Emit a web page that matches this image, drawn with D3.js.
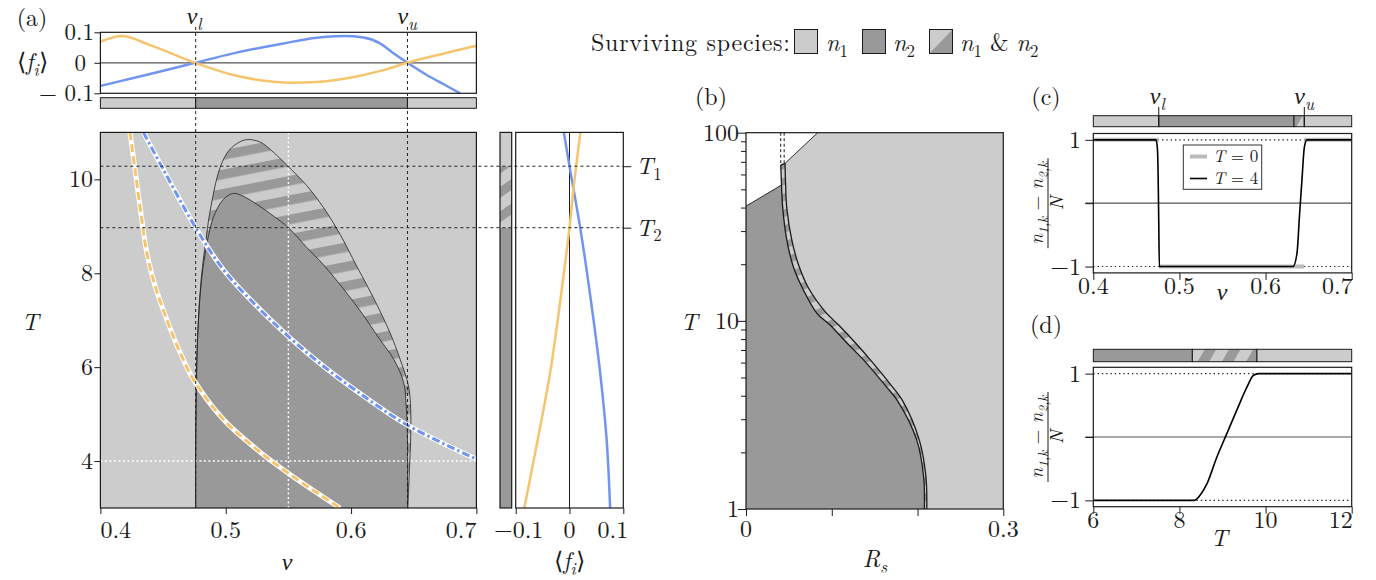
<!DOCTYPE html>
<html><head><meta charset="utf-8">
<script src="https://cdn.jsdelivr.net/npm/d3@7"></script>
<style>
body{margin:0;background:#fff;}
</style></head><body>
<svg id="chart" width="1376" height="580"></svg>
<script>
// ---------------- data ----------------
const LIGHT = "#cccccc", DARK = "#999999", BLUE = "#7195ef", ORANGE = "#f5c46e";
const nuTicks = [0.4, 0.5, 0.6, 0.7];
const nuTickLabels = ["0.4", "0.5", "0.6", "0.7"];
const tTicksA = [4, 6, 8, 10];
const fTicks = [-0.1, 0, 0.1];
const fTickLabelsTop = ["\u2212 0.1", "0", "0.1"];
const fTickLabelsRight = ["\u22120.1", "0", "0.1"];
const nuL = 0.476, nuU = 0.645, T1 = 10.28, T2 = 8.97, nuMid = 0.55, Twhite = 4;

// panel (a) top: <f_i> vs nu
const blueTopNu = [0.400, 0.4396, 0.4755, 0.506, 0.546, 0.5726, 0.5939, 0.6098, 0.6231, 0.6338, 0.645, 0.6604, 0.6764, 0.687];
const blueTopF  = [-0.076, -0.037, 0, 0.031, 0.0636, 0.082, 0.0875, 0.083, 0.0636, 0.031, 0, -0.04, -0.076, -0.1];
const orangeTopNu = [0.400, 0.417, 0.4396, 0.4755, 0.506, 0.5327, 0.551, 0.5726, 0.5992, 0.6258, 0.645, 0.671, 0.700];
const orangeTopF  = [0.069, 0.0875, 0.058, 0, -0.040, -0.060, -0.0655, -0.063, -0.049, -0.024, 0, 0.0275, 0.0557];

// panel (a) main: region boundaries (nu, T)
const outerNu = [0.476, 0.4762, 0.4768, 0.478, 0.4805, 0.4848, 0.4875, 0.4955, 0.5034, 0.5154, 0.527, 0.5354, 0.55, 0.5646, 0.578, 0.5912, 0.6045, 0.6178, 0.6311, 0.6391, 0.6458, 0.6476, 0.6476, 0.6466, 0.6453];
const outerT  = [3.0, 4.5, 5.8, 6.9, 7.9, 8.83, 9.32, 10.25, 10.64, 10.84, 10.80, 10.64, 10.27, 9.87, 9.40, 8.83, 8.15, 7.48, 6.73, 6.17, 5.60, 5.10, 4.53, 3.82, 3.0];
const innerNu = [0.476, 0.476, 0.4765, 0.478, 0.4805, 0.4835, 0.490, 0.498, 0.506, 0.514, 0.5247, 0.538, 0.55, 0.5646, 0.578, 0.6045, 0.623, 0.634, 0.642, 0.644, 0.645, 0.645];
const innerT  = [3.0, 4.5, 5.8, 6.9, 7.8, 8.40, 9.18, 9.57, 9.70, 9.64, 9.47, 9.22, 8.97, 8.55, 8.18, 7.30, 6.59, 6.17, 5.67, 5.17, 4.5, 3.0];
// curves in panel (a) main
const orangeNu = [0.4236, 0.4276, 0.4330, 0.4370, 0.4436, 0.4529, 0.4636, 0.4742, 0.498, 0.5247, 0.551, 0.5912];
const orangeT  = [11.0, 10.21, 9.15, 8.44, 7.73, 7.02, 6.31, 5.74, 4.89, 4.25, 3.72, 3.0];
const blueNu = [0.4343, 0.4502, 0.476, 0.498, 0.5247, 0.551, 0.578, 0.6045, 0.644, 0.7];
const blueT  = [11.0, 10.21, 8.97, 8.08, 7.30, 6.63, 6.02, 5.49, 4.78, 4.04];
// panel (a) right: <f_i> vs T at nu = 0.55
const blueRightT = [11, 10.28, 8.94, 7.51, 5.88, 4.46, 3.0];
const blueRightF = [-0.0105, 0, 0.0203, 0.0387, 0.057, 0.069, 0.0755];
const orangeRightT = [11, 9.86, 8.97, 7.73, 5.95, 4.46, 3.0];
const orangeRightF = [0.0203, 0.008, 0, -0.0135, -0.035, -0.059, -0.084];

// panel (b)
const bTicksR = [0, 0.1, 0.2, 0.3];
const bTickLabels = ["0", "", "", "0.3"];
const bMajorT = [1, 10, 100];
const bMinorT = [2, 3, 4, 5, 6, 7, 8, 9, 20, 30, 40, 50, 60, 70, 80, 90];
const whiteR = [0, 0, 0.0414, 0.0405, 0.0455, 0.0836];
const whiteT = [100, 40.7, 52.7, 67.3, 68.7, 100];
const bandLeftT = [67.3, 52.7, 40, 27, 19.4, 14.6, 11, 9.5, 7.6, 6.2, 4.5, 3.8, 2.33, 1.5, 1];
const bandLeftR = [0.0405, 0.0414, 0.0428, 0.0475, 0.0552, 0.0669, 0.0825, 0.098, 0.118, 0.137, 0.163, 0.176, 0.199, 0.207, 0.208];
const bandRightT = [68.7, 52.7, 40, 27, 20, 15, 11.1, 9.5, 7.6, 6.2, 4.5, 3.8, 2.33, 1.5, 1];
const bandRightR = [0.0455, 0.0462, 0.0475, 0.0533, 0.061, 0.0727, 0.093, 0.108, 0.128, 0.145, 0.170, 0.182, 0.202, 0.2097, 0.2108];

// panel (c)
const cT0Nu = [0.4, 0.476, NaN, 0.476, 0.645, NaN, 0.645, 0.7];
const cT0Y  = [1, 1, NaN, -1, -1, NaN, 1, 1];
const cT4Nu = [0.4, 0.4729, 0.4745, 0.4752, 0.4760, 0.4767, 0.6318, 0.6364, 0.6395, 0.6422, 0.645, 0.648, 0.7];
const cT4Y  = [1, 1, 0.85, 0.5, -0.3, -1, -1, -0.80, -0.17, 0.36, 0.88, 1, 1];
const cBarNu = [0.4, 0.476, 0.633, 0.645, 0.7];
const cBarKind = ["light", "dark", "mix", "light"];
const yTicksCD = [-1, 0, 1];
const yTickLabelsCD = ["\u22121", "", "1"];

// panel (d)
const dTicks = [6, 8, 10, 12];
const dTickLabels = ["6", "8", "10", "12"];
const dT = [6, 8.35, 8.40, 8.5, 8.64, 8.87, 9.10, 9.33, 9.57, 9.72, 9.84, 12];
const dY = [-1, -1, -0.98, -0.9, -0.736, -0.316, 0.053, 0.42, 0.79, 0.974, 1, 1];
const dBarT = [6, 8.3, 9.8, 12];
const dBarKind = ["dark", "mix", "light"];

// ---------------- scales ----------------
const xA = d3.scaleLinear().domain([0.4, 0.7]).range([100.4, 476.4]);
const yA = d3.scaleLinear().domain([3, 11]).range([508, 132.4]);
const yF = d3.scaleLinear().domain([-0.1, 0.1]).range([93.3, 32.3]);
const xR = d3.scaleLinear().domain([-0.1, 0.1]).range([515.7, 623.3]);
const xB = d3.scaleLinear().domain([0, 0.3]).range([746, 1003.3]);
const yB = d3.scaleLog().domain([1, 100]).range([509, 132.7]);
const xC = d3.scaleLinear().domain([0.4, 0.7]).range([1093.3, 1351.7]);
const yC = d3.scaleLinear().domain([-1.1, 1.1]).range([272.9, 133.5]);
const xD = d3.scaleLinear().domain([6, 12]).range([1093.3, 1351.7]);
const yD = d3.scaleLinear().domain([-1.1, 1.1]).range([506.7, 367.3]);

const svg = d3.select("#chart");
const defs = svg.append("defs");
const INK = "#1a1a1a";
const FS = 24;
const FONT = "'Latin Modern Roman', 'Liberation Serif', serif";

function stripes(id, period, darkW, angle) {
  const p = defs.append("pattern").attr("id", id).attr("patternUnits", "userSpaceOnUse")
    .attr("width", period).attr("height", period).attr("patternTransform", `rotate(${angle})`);
  p.append("rect").attr("width", period).attr("height", period).attr("fill", LIGHT);
  p.append("rect").attr("width", period).attr("height", darkW).attr("fill", DARK);
}
stripes("stA", 19, 9.5, -11);
stripes("stBar", 20, 9, -35);
stripes("stB", 15, 7, -20);
stripes("stCD", 21, 10, -60);

function clip(id, x, y, w, h) {
  defs.append("clipPath").attr("id", id).append("rect").attr("x", x).attr("y", y).attr("width", w).attr("height", h);
}
function zip(a, b) { return a.map((v, i) => [v, b[i]]); }

function mtext(parent, x, y, parts, size, anchor) {
  const t = parent.append("text").attr("x", x).attr("y", y).attr("font-size", size).style("font-family", FONT)
    .attr("text-anchor", anchor || "start").attr("fill", INK);
  let inSub = false;
  parts.forEach(([s, st]) => {
    const ts = t.append("tspan").text(s);
    const isSub = st.startsWith("sub");
    if (st === "i" || st === "subi") ts.style("font-style", "italic");
    if (isSub && !inSub) ts.attr("dy", size * 0.24);
    if (!isSub && inSub) ts.attr("dy", -size * 0.24);
    if (isSub) ts.attr("font-size", size * 0.7);
    inSub = isSub;
  });
  return t;
}
function ticks(axis, transform, len) {
  const g = svg.append("g").attr("transform", transform).call(axis.tickSize(len).tickSizeOuter(0).tickFormat(""));
  g.select(".domain").remove();
  g.selectAll("line").attr("stroke", INK).attr("stroke-width", 1);
  g.selectAll("text").remove();
  return g;
}
function label(x, y, s, anchor, size) {
  svg.append("text").attr("x", x).attr("y", y).attr("font-size", size || FS).style("font-family", FONT)
    .attr("text-anchor", anchor || "middle").attr("fill", INK).text(s);
}

// ================= PANEL (a) main =================
clip("clipA", xA(0.4), yA(11), xA(0.7) - xA(0.4), yA(3) - yA(11));
const gA = svg.append("g");
gA.append("rect").attr("x", xA(0.4)).attr("y", yA(11)).attr("width", xA(0.7) - xA(0.4))
  .attr("height", yA(3) - yA(11)).attr("fill", LIGHT);
const lineA = d3.line().x(d => xA(d[0])).y(d => yA(d[1])).curve(d3.curveCatmullRom.alpha(0.5));
gA.append("path").attr("d", lineA(zip(outerNu, outerT)) + "Z").attr("fill", "url(#stA)");
gA.append("path").attr("d", lineA(zip(innerNu, innerT)) + "Z").attr("fill", DARK);
gA.append("path").attr("d", lineA(zip(outerNu, outerT))).attr("fill", "none").attr("stroke", "#222").attr("stroke-width", 0.8);
gA.append("path").attr("d", lineA(zip(innerNu, innerT))).attr("fill", "none").attr("stroke", "#222").attr("stroke-width", 0.8);
// white dotted guides
gA.append("line").attr("x1", xA(nuMid)).attr("x2", xA(nuMid)).attr("y1", yA(11)).attr("y2", yA(3))
  .attr("stroke", "#fff").attr("stroke-width", 1.4).attr("stroke-dasharray", "2,2.5");
gA.append("line").attr("x1", xA(0.4)).attr("x2", xA(0.7)).attr("y1", yA(Twhite)).attr("y2", yA(Twhite))
  .attr("stroke", "#fff").attr("stroke-width", 1.4).attr("stroke-dasharray", "2,2.5");
// curves
const gCurves = gA.append("g").attr("clip-path", "url(#clipA)");
const lineAc = d3.line().x(d => xA(d[0])).y(d => yA(d[1])).curve(d3.curveCatmullRom.alpha(0.5));
[[orangeNu, orangeT, ORANGE, "8,4"], [blueNu, blueT, BLUE, "8,3,2.5,3"]].forEach(([nu, T, col, dash]) => {
  const d = lineAc(zip(nu, T));
  gCurves.append("path").attr("d", d).attr("fill", "none").attr("stroke", "#fff").attr("stroke-width", 5);
  gCurves.append("path").attr("d", d).attr("fill", "none").attr("stroke", col).attr("stroke-width", 3).attr("stroke-dasharray", dash);
});

// ================= PANEL (a) top =================
const gT = svg.append("g");
clip("clipT", xA(0.4), yF(0.1), xA(0.7) - xA(0.4), yF(-0.1) - yF(0.1));
gT.append("line").attr("x1", xA(0.4)).attr("x2", xA(0.7)).attr("y1", yF(0)).attr("y2", yF(0))
  .attr("stroke", "#555").attr("stroke-width", 1.2);
const lineT = d3.line().x(d => xA(d[0])).y(d => yF(d[1])).curve(d3.curveMonotoneX);
const gTc = gT.append("g").attr("clip-path", "url(#clipT)");
gTc.append("path").attr("d", lineT(zip(blueTopNu, blueTopF))).attr("fill", "none").attr("stroke", BLUE).attr("stroke-width", 2.5);
gTc.append("path").attr("d", lineT(zip(orangeTopNu, orangeTopF))).attr("fill", "none").attr("stroke", ORANGE).attr("stroke-width", 2.5);
gT.append("rect").attr("x", xA(0.4)).attr("y", yF(0.1)).attr("width", xA(0.7) - xA(0.4))
  .attr("height", yF(-0.1) - yF(0.1)).attr("fill", "none").attr("stroke", INK).attr("stroke-width", 1.2);
// bar
const barNuA = [0.4, nuL, nuU, 0.7], barColA = [LIGHT, DARK, LIGHT];
barColA.forEach((c, i) => {
  gT.append("rect").attr("x", xA(barNuA[i])).attr("y", 97.7).attr("width", xA(barNuA[i + 1]) - xA(barNuA[i]))
    .attr("height", 10.6).attr("fill", c).attr("stroke", INK).attr("stroke-width", 1);
});
ticks(d3.axisLeft(yF).tickValues(fTicks), `translate(${xA(0.4)},0)`, 6);
fTicks.forEach((v, i) => label(i === 1 ? 86 : 94, yF(v) + 8, fTickLabelsTop[i], "end", 23));
mtext(svg, 17, 70, [["\u27e8", "r"], ["f", "i"], ["i", "subi"], ["\u27e9", "r"]], FS, "start");
label(32, 26, "(a)", "middle");

// ================= PANEL (a) right =================
const barX = 500, barW = 11.7;
svg.append("rect").attr("x", barX).attr("y", yA(11)).attr("width", barW).attr("height", yA(T1) - yA(11)).attr("fill", LIGHT);
svg.append("rect").attr("x", barX).attr("y", yA(T1)).attr("width", barW).attr("height", yA(T2) - yA(T1)).attr("fill", "url(#stBar)");
svg.append("rect").attr("x", barX).attr("y", yA(T2)).attr("width", barW).attr("height", yA(3) - yA(T2)).attr("fill", DARK);
svg.append("rect").attr("x", barX).attr("y", yA(11)).attr("width", barW).attr("height", yA(3) - yA(11))
  .attr("fill", "none").attr("stroke", INK).attr("stroke-width", 1.2);
svg.append("line").attr("x1", xR(0)).attr("x2", xR(0)).attr("y1", yA(11)).attr("y2", yA(3)).attr("stroke", INK).attr("stroke-width", 1);
clip("clipR", xR(-0.1), yA(11), xR(0.1) - xR(-0.1), yA(3) - yA(11));
const lineR = d3.line().x(d => xR(d[0])).y(d => yA(d[1])).curve(d3.curveCatmullRom.alpha(0.5));
const gRc = svg.append("g").attr("clip-path", "url(#clipR)");
gRc.append("path").attr("d", lineR(zip(blueRightF, blueRightT))).attr("fill", "none").attr("stroke", BLUE).attr("stroke-width", 2.5);
gRc.append("path").attr("d", lineR(zip(orangeRightF, orangeRightT))).attr("fill", "none").attr("stroke", ORANGE).attr("stroke-width", 2.5);
svg.append("rect").attr("x", xR(-0.1)).attr("y", yA(11)).attr("width", xR(0.1) - xR(-0.1)).attr("height", yA(3) - yA(11))
  .attr("fill", "none").attr("stroke", INK).attr("stroke-width", 1.2);
ticks(d3.axisBottom(xR).tickValues(fTicks), `translate(0,${yA(3)})`, 6);
label(xR(-0.1) + 3, 538, fTickLabelsRight[0], "middle");
label(xR(0), 538, fTickLabelsRight[1], "middle");
label(xR(0.1) + 5, 538, fTickLabelsRight[2], "end");
mtext(svg, xR(0), 569, [["\u27e8", "r"], ["f", "i"], ["i", "subi"], ["\u27e9", "r"]], FS, "middle");
ticks(d3.axisRight(yA).tickValues([T1, T2]), `translate(${xR(0.1)},0)`, 8);
mtext(svg, 636, yA(T1) + 8, [["T", "i"], ["1", "sub"]], FS);
mtext(svg, 636, yA(T2) + 8, [["T", "i"], ["2", "sub"]], FS);

// black dashed guide lines
[nuL, nuU].forEach(v => {
  svg.append("line").attr("x1", xA(v)).attr("x2", xA(v)).attr("y1", 27).attr("y2", yA(3))
    .attr("stroke", "#222").attr("stroke-width", 1).attr("stroke-dasharray", "3,3");
});
[T1, T2].forEach(v => {
  svg.append("line").attr("x1", xA(0.4)).attr("x2", xR(0.1)).attr("y1", yA(v)).attr("y2", yA(v))
    .attr("stroke", "#222").attr("stroke-width", 1).attr("stroke-dasharray", "3,3");
});
mtext(svg, xA(nuL) - 9, 24, [["\u03bd", "i"], ["l", "subi"]], FS);
mtext(svg, xA(nuU) - 10, 24, [["\u03bd", "i"], ["u", "subi"]], FS);

// frame + axes of (a) main
svg.append("rect").attr("x", xA(0.4)).attr("y", yA(11)).attr("width", xA(0.7) - xA(0.4)).attr("height", yA(3) - yA(11))
  .attr("fill", "none").attr("stroke", INK).attr("stroke-width", 1.2);
ticks(d3.axisLeft(yA).tickValues(tTicksA), `translate(${xA(0.4)},0)`, 6);
tTicksA.forEach(t => label(93, yA(t) + 8, String(t), "end"));
ticks(d3.axisBottom(xA).tickValues(nuTicks), `translate(0,${yA(3)})`, 6);
nuTicks.forEach((v, i) => label(xA(v), 538, nuTickLabels[i], i === 0 ? "start" : (i === nuTicks.length - 1 ? "end" : "middle")));
mtext(svg, 30, 330, [["T", "i"]], FS, "middle");
mtext(svg, 287, 570, [["\u03bd", "i"]], FS, "middle");

// ================= PANEL (b) =================
const gB = svg.append("g");
gB.append("rect").attr("x", xB(0)).attr("y", yB(100)).attr("width", xB(0.3) - xB(0)).attr("height", yB(1) - yB(100)).attr("fill", LIGHT);
const lineBs = d3.line().x(d => xB(d[0])).y(d => yB(d[1]));
gB.append("path").attr("d", lineBs(zip(whiteR, whiteT)) + "Z").attr("fill", "#fff");
const lineB = d3.line().x(d => xB(d[0])).y(d => yB(d[1])).curve(d3.curveCatmullRom.alpha(0.5));
const leftPts = zip(bandLeftR, bandLeftT), rightPts = zip(bandRightR, bandRightT);
const leftTail = lineB(leftPts.slice(1));
gB.append("path").attr("d", `M${xB(0)},${yB(1)}L${xB(0)},${yB(40.7)}L` + leftTail.slice(1) + "Z").attr("fill", DARK);
const bandD = lineB(leftPts) + "L" + lineB(rightPts.slice().reverse()).slice(1) + "Z";
gB.append("path").attr("d", bandD).attr("fill", "url(#stB)");
gB.append("path").attr("d", lineB(leftPts)).attr("fill", "none").attr("stroke", INK).attr("stroke-width", 1.3);
gB.append("path").attr("d", lineB(rightPts)).attr("fill", "none").attr("stroke", INK).attr("stroke-width", 1.3);
gB.append("line").attr("x1", xB(bandLeftR[0])).attr("y1", yB(bandLeftT[0])).attr("x2", xB(bandRightR[0])).attr("y2", yB(bandRightT[0]))
  .attr("stroke", INK).attr("stroke-width", 1.3);
gB.append("path").attr("d", lineBs(zip(whiteR.slice(1, 3), whiteT.slice(1, 3)))).attr("stroke", INK).attr("stroke-width", 0.9).attr("fill", "none");
gB.append("path").attr("d", lineBs(zip(whiteR.slice(4, 6), whiteT.slice(4, 6)))).attr("stroke", INK).attr("stroke-width", 0.9).attr("fill", "none");
[bandLeftR[0], bandRightR[0] - 0.001].forEach(r => {
  gB.append("line").attr("x1", xB(r)).attr("x2", xB(r)).attr("y1", yB(100)).attr("y2", yB(67.5))
    .attr("stroke", INK).attr("stroke-width", 1).attr("stroke-dasharray", "3,2.5");
});
gB.append("rect").attr("x", xB(0)).attr("y", yB(100)).attr("width", xB(0.3) - xB(0)).attr("height", yB(1) - yB(100))
  .attr("fill", "none").attr("stroke", INK).attr("stroke-width", 1.2);
ticks(d3.axisLeft(yB).tickValues(bMajorT), `translate(${xB(0)},0)`, 8);
ticks(d3.axisLeft(yB).tickValues(bMinorT), `translate(${xB(0)},0)`, 5);
bMajorT.forEach(t => label(739, yB(t) + 8, String(t), "end"));
ticks(d3.axisBottom(xB).tickValues(bTicksR), `translate(0,${yB(1)})`, 7);
bTicksR.forEach((v, i) => { if (bTickLabels[i]) label(xB(v), 537, bTickLabels[i], "middle"); });
mtext(svg, 689, 330, [["T", "i"]], FS, "middle");
mtext(svg, 875, 567, [["R", "i"], ["s", "subi"]], FS, "middle");
label(711, 105, "(b)", "middle");

// ================= PANEL (c) =================
function barSegs(xs, breaks, kinds, y, h) {
  kinds.forEach((k, i) => {
    svg.append("rect").attr("x", xs(breaks[i])).attr("y", y).attr("width", xs(breaks[i + 1]) - xs(breaks[i])).attr("height", h)
      .attr("fill", k === "light" ? LIGHT : (k === "dark" ? DARK : "url(#stCD)")).attr("stroke", INK).attr("stroke-width", 1);
  });
}
barSegs(xC, cBarNu, cBarKind, 115.7, 11);
[nuL, nuU].forEach(v => svg.append("line").attr("x1", xC(v)).attr("x2", xC(v)).attr("y1", 107).attr("y2", 126.7).attr("stroke", INK).attr("stroke-width", 1));
mtext(svg, xC(nuL) - 9, 104, [["\u03bd", "i"], ["l", "subi"]], FS);
mtext(svg, xC(nuU) - 10, 104, [["\u03bd", "i"], ["u", "subi"]], FS);

function panelCD(xs, ys, xTicks, xLabels, curves, yTop, yBot) {
  const x0 = xs.range()[0], x1 = xs.range()[1];
  svg.append("line").attr("x1", x0 - 8).attr("x2", x1).attr("y1", ys(0)).attr("y2", ys(0)).attr("stroke", "#555").attr("stroke-width", 1.2);
  [1, -1].forEach(v => svg.append("line").attr("x1", x0).attr("x2", x1).attr("y1", ys(v)).attr("y2", ys(v))
    .attr("stroke", INK).attr("stroke-width", 1.1).attr("stroke-dasharray", "1.3,3"));
  curves();
  svg.append("rect").attr("x", x0).attr("y", yTop).attr("width", x1 - x0).attr("height", yBot - yTop)
    .attr("fill", "none").attr("stroke", INK).attr("stroke-width", 1.2);
  ticks(d3.axisLeft(ys).tickValues(yTicksCD), `translate(${x0},0)`, 8);
  yTicksCD.forEach((v, i) => { if (yTickLabelsCD[i]) label(1081, ys(v) + 8, yTickLabelsCD[i], "end"); });
  ticks(d3.axisBottom(xs).tickValues(xTicks), `translate(0,${yBot})`, 7);
  xTicks.forEach((v, i) => label(i === xTicks.length - 1 ? xs(v) + 1 : xs(v), yBot + 21, xLabels[i], i === xTicks.length - 1 ? "end" : "middle"));
  // y label fraction
  const cy = ys(0);
  const g = svg.append("g").attr("transform", `translate(1048,${cy}) rotate(-90)`);
  mtext(g, 0, -5, [["n", "i"], ["1,k", "subi"], [" \u2212 ", "r"], ["n", "i"], ["2,k", "subi"]], 19, "middle");
  g.append("line").attr("x1", -45).attr("x2", 45).attr("y1", 0).attr("y2", 0).attr("stroke", INK).attr("stroke-width", 1);
  mtext(g, 0, 15, [["N", "i"]], 19, "middle");
}
const lineC = d3.line().defined(d => !isNaN(d[0])).x(d => xC(d[0])).y(d => yC(d[1]));
panelCD(xC, yC, nuTicks, nuTickLabels, () => {
  svg.append("path").attr("d", lineC(zip(cT0Nu, cT0Y))).attr("fill", "none").attr("stroke", "#bbbbbb").attr("stroke-width", 4);
  svg.append("path").attr("d", d3.line().x(d => xC(d[0])).y(d => yC(d[1])).curve(d3.curveMonotoneX)(zip(cT4Nu, cT4Y)))
    .attr("fill", "none").attr("stroke", "#000").attr("stroke-width", 1.6);
}, 133.5, 272.9);
// legend (c)
svg.append("rect").attr("x", 1183.3).attr("y", 145).attr("width", 78.4).attr("height", 44.3).attr("fill", "#fff").attr("stroke", "#333").attr("stroke-width", 1);
svg.append("line").attr("x1", 1190).attr("x2", 1207).attr("y1", 156.5).attr("y2", 156.5).attr("stroke", "#bbbbbb").attr("stroke-width", 4);
svg.append("line").attr("x1", 1190).attr("x2", 1207).attr("y1", 178.5).attr("y2", 178.5).attr("stroke", "#000").attr("stroke-width", 1.6);
mtext(svg, 1213, 162, [["T", "i"], [" = 0", "r"]], 17);
mtext(svg, 1213, 184, [["T", "i"], [" = 4", "r"]], 17);
mtext(svg, 1222, 300, [["\u03bd", "i"]], FS, "middle");
label(1046, 105, "(c)", "middle");

// ================= PANEL (d) =================
barSegs(xD, dBarT, dBarKind, 349.3, 12.4);
panelCD(xD, yD, dTicks, dTickLabels, () => {
  svg.append("path").attr("d", d3.line().x(d => xD(d[0])).y(d => yD(d[1])).curve(d3.curveMonotoneX)(zip(dT, dY)))
    .attr("fill", "none").attr("stroke", "#000").attr("stroke-width", 1.6);
}, 367.3, 506.7);
mtext(svg, 1219, 546, [["T", "i"]], FS, "middle");
label(1046, 333, "(d)", "middle");

// ================= top legend =================
svg.append("text").attr("x", 591).attr("y", 51).attr("font-size", FS).style("font-family", FONT).attr("fill", INK)
  .attr("textLength", 199).attr("lengthAdjust", "spacing").text("Surviving species:");
const boxY = 29.5, boxS = 24;
svg.append("rect").attr("x", 794.5).attr("y", boxY).attr("width", 23).attr("height", boxS).attr("fill", LIGHT).attr("stroke", INK);
mtext(svg, 826, 51, [["n", "i"], ["1", "sub"]], FS);
svg.append("rect").attr("x", 862.5).attr("y", boxY).attr("width", 23).attr("height", boxS).attr("fill", DARK).attr("stroke", INK);
mtext(svg, 893, 51, [["n", "i"], ["2", "sub"]], FS);
svg.append("rect").attr("x", 929.5).attr("y", boxY).attr("width", 23).attr("height", boxS).attr("fill", LIGHT);
svg.append("path").attr("d", `M929.5,${boxY + boxS}L952.5,${boxY}L952.5,${boxY + boxS}Z`).attr("fill", DARK);
svg.append("rect").attr("x", 929.5).attr("y", boxY).attr("width", 23).attr("height", boxS).attr("fill", "none").attr("stroke", INK);
mtext(svg, 960, 51, [["n", "i"], ["1", "sub"], [" & ", "r"], ["n", "i"], ["2", "sub"]], FS);
</script>
</body></html>
